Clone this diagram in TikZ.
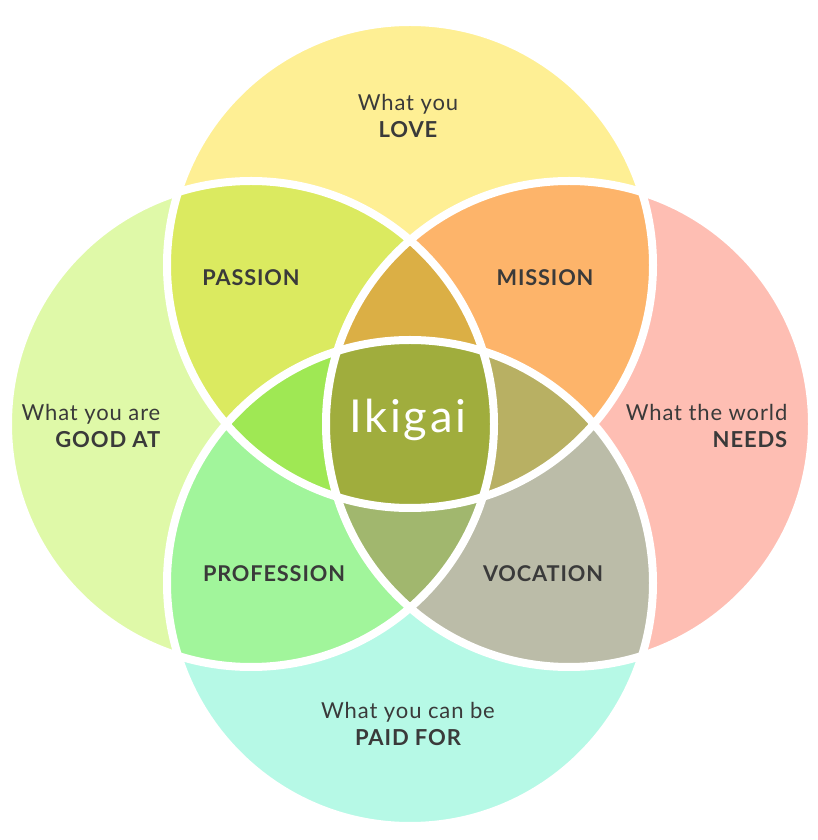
\documentclass[tikz,border=0pt]{standalone}
\usepackage{fontspec}
\setmainfont{Lato}
\usepackage{tikz}
\definecolor{gelb}{HTML}{FEEF94}
\definecolor{hgruen}{HTML}{DFF9A8}
\definecolor{rosa}{HTML}{FEBEB3}
\definecolor{mint}{HTML}{B6F9E6}
\definecolor{lime}{HTML}{DBEA60}
\definecolor{orange}{HTML}{FDB46A}
\definecolor{gruen}{HTML}{A1F59B}
\definecolor{grau}{HTML}{BBBCA8}
\definecolor{ocker}{HTML}{DBAF45}
\definecolor{sgruen}{HTML}{9FE854}
\definecolor{oliv}{HTML}{B8B063}
\definecolor{moos}{HTML}{A1B76E}
\definecolor{kern}{HTML}{A0AD3D}
\definecolor{schrift}{HTML}{3A3A3A}
\tikzset{
  rand/.style={draw=white,line width=6pt},
  txt/.style={text=schrift,align=center,font=\fontsize{16.5}{20}\selectfont\addfontfeature{LetterSpace=4}},
  fett/.style={text=schrift,font=\bfseries\fontsize{16.3}{20}\selectfont\addfontfeature{LetterSpace=4}},
  mitte/.style={text=white,font=\fontsize{34}{40}\selectfont\addfontfeature{LetterSpace=6}},
}

\begin{document}
\begin{tikzpicture}[x=0.75pt,y=0.75pt,radius=182.25pt]
  \useasboundingbox (0,0) rectangle (818,840);
  \coordinate (oben) at (410,575);
  \coordinate (links) at (251,416);
  \coordinate (rechts) at (569,416);
  \coordinate (unten) at (410,257);
  % einzelne Kreise
  \fill[gelb] (oben) circle;
  \fill[hgruen] (links) circle;
  \fill[rosa] (rechts) circle;
  \fill[mint] (unten) circle;
  % Paare
  \begin{scope}\clip (oben) circle; \fill[lime] (links) circle; \end{scope}
  \begin{scope}\clip (oben) circle; \fill[orange] (rechts) circle; \end{scope}
  \begin{scope}\clip (unten) circle; \fill[gruen] (links) circle; \end{scope}
  \begin{scope}\clip (unten) circle; \fill[grau] (rechts) circle; \end{scope}
  % Dreier
  \begin{scope}\clip (links) circle; \clip (rechts) circle; \fill[ocker] (oben) circle; \end{scope}
  \begin{scope}\clip (oben) circle; \clip (unten) circle; \fill[sgruen] (links) circle; \end{scope}
  \begin{scope}\clip (oben) circle; \clip (unten) circle; \fill[oliv] (rechts) circle; \end{scope}
  \begin{scope}\clip (links) circle; \clip (rechts) circle; \fill[moos] (unten) circle; \end{scope}
  \begin{scope}\clip (links) circle; \clip (rechts) circle; \clip (oben) circle; \fill[kern] (unten) circle; \end{scope}
  \foreach \k in {oben,links,rechts,unten}
    \draw[rand] (\k) circle;
  % Texte
  \node[txt] (love) at (408,724) {What you\\{\bfseries LOVE}};
  \node[txt,align=right,anchor=east] (good) at (165,414) {What you are\\{\bfseries GOOD AT}};
  \node[txt,align=right,anchor=east] (needs) at (792,414) {What the world\\{\bfseries NEEDS}};
  \node[txt] (paid) at (408,116) {What you can be\\{\bfseries PAID FOR}};
  \node[fett] (passion) at (251,562) {PASSION};
  \node[fett] (mission) at (545,562) {MISSION};
  \node[fett] (profession) at (274,266) {PROFESSION};
  \node[fett] (vocation) at (543,266) {VOCATION};
  \node[mitte] (ikigai) at (408,420) {Ikigai};
\end{tikzpicture}
\end{document}
